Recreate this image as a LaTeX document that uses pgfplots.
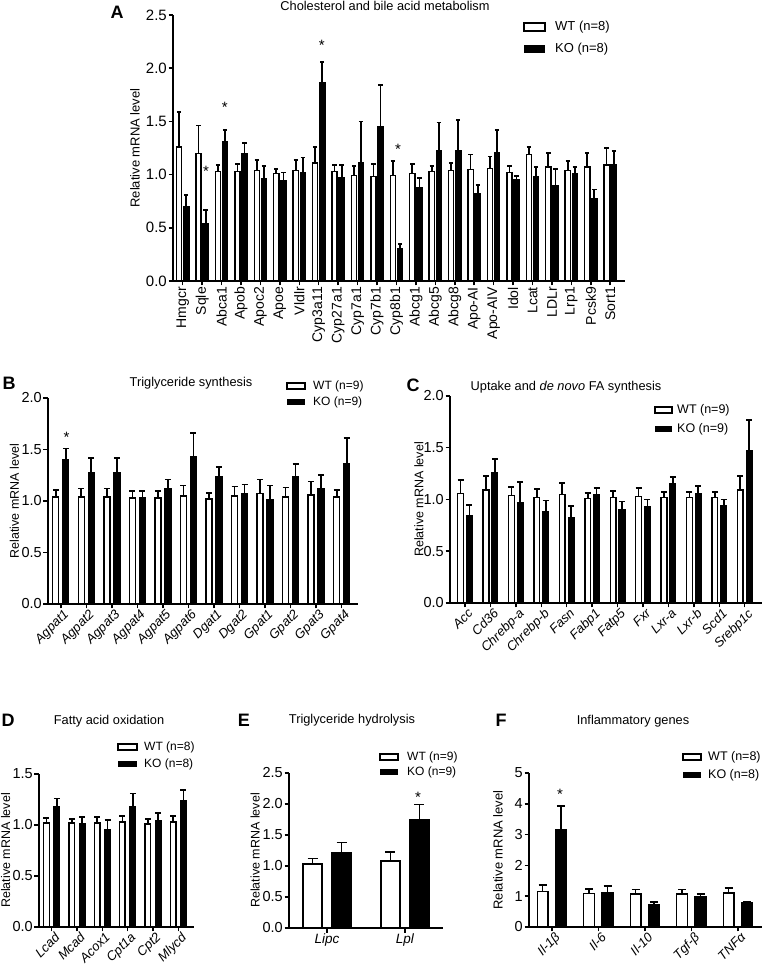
\documentclass[border=0pt]{standalone}
\usepackage{fontspec}
\setmainfont{Liberation Sans}
\usepackage{pgfplots}
\pgfplotsset{compat=1.18}
\usepackage{pgfplotstable}

\newcommand{\fs}[1]{\fontsize{#1bp}{#1bp}\selectfont}

\pgfplotsset{
  gp/.style={
    scale only axis, anchor=south west,
    axis lines*=left,
    axis line style={line width=1.5bp, -},
    every tick/.style={black, line width=1.5bp},
    tick align=outside,
    major tick length=4.5bp,
    ybar, ymin=0, enlargelimits=false, clip=false,
    /pgf/number format/assume math mode=true,
    yticklabel style={font=\fs{14.5}, inner sep=1.5bp, /pgf/number format/.cd, fixed, fixed zerofill, precision=1},
    xticklabel style={font=\fs{14}, inner sep=1.5bp},
    ylabel={Relative mRNA level},
    ylabel style={font=\fs{13}, anchor=center},
  },
  wt/.style={fill=white, draw=black, line width=1.4bp, error bars/.cd, y dir=plus, y explicit, error bar style={line width=1.7bp, black}, error mark options={rotate=90, line width=1.7bp, mark size=#1, black}},
  ko/.style={fill=black, draw=black, line width=1.4bp, error bars/.cd, y dir=plus, y explicit, error bar style={line width=1.7bp, black}, error mark options={rotate=90, line width=1.7bp, mark size=#1, black}},
}
\tikzset{sig/.style={font=\fs{15}, inner sep=0pt, yshift=-3bp}}

\pgfplotstableread{
x wt wte ko koe
0 1.26 0.33 0.70 0.11
1 1.20 0.26 0.54 0.13
2 1.03 0.06 1.31 0.11
3 1.03 0.07 1.20 0.10
4 1.04 0.10 0.96 0.12
5 1.01 0.04 0.94 0.08
6 1.04 0.10 1.02 0.14
7 1.11 0.15 1.86 0.20
8 1.03 0.06 0.97 0.12
9 0.99 0.09 1.11 0.39
10 0.98 0.12 1.45 0.39
11 0.99 0.14 0.30 0.05
12 1.01 0.09 0.88 0.09
13 1.03 0.05 1.22 0.27
14 1.04 0.07 1.22 0.29
15 1.05 0.14 0.82 0.08
16 1.06 0.11 1.21 0.21
17 1.02 0.06 0.95 0.04
18 1.19 0.07 0.98 0.09
19 1.07 0.13 0.90 0.15
20 1.04 0.09 1.01 0.06
21 1.07 0.13 0.77 0.09
22 1.09 0.16 1.09 0.13
}\tabA

\pgfplotstableread{
x wt wte ko koe
0 1.04 0.07 1.40 0.11
1 1.04 0.08 1.27 0.15
2 1.04 0.08 1.27 0.15
3 1.03 0.07 1.03 0.07
4 1.03 0.07 1.12 0.09
5 1.05 0.10 1.43 0.23
6 1.02 0.06 1.24 0.09
7 1.05 0.09 1.07 0.09
8 1.07 0.14 1.01 0.14
9 1.04 0.09 1.24 0.12
10 1.06 0.13 1.12 0.13
11 1.04 0.07 1.36 0.25
}\tabB

\pgfplotstableread{
x wt wte ko koe
0 1.06 0.13 0.84 0.11
1 1.09 0.14 1.26 0.13
2 1.04 0.08 0.97 0.20
3 1.02 0.08 0.88 0.11
4 1.05 0.11 0.82 0.12
5 1.01 0.05 1.05 0.06
6 1.02 0.06 0.90 0.08
7 1.03 0.08 0.93 0.07
8 1.02 0.05 1.15 0.07
9 1.02 0.05 1.06 0.07
10 1.02 0.05 0.94 0.06
11 1.09 0.14 1.47 0.30
}\tabC

\pgfplotstableread{
x wt wte ko koe
0 1.02 0.05 1.18 0.08
1 1.02 0.04 1.01 0.07
2 1.02 0.06 0.95 0.10
3 1.03 0.06 1.18 0.13
4 1.01 0.05 1.04 0.08
5 1.03 0.06 1.24 0.10
}\tabD

\pgfplotstableread{
x wt wte ko koe
0 1.03 0.09 1.22 0.16
1 1.08 0.15 1.74 0.25
}\tabE

\pgfplotstableread{
x wt wte ko koe
0 1.15 0.22 3.17 0.76
1 1.08 0.16 1.11 0.23
2 1.07 0.15 0.74 0.08
3 1.07 0.15 0.98 0.10
4 1.10 0.16 0.78 0.03
}\tabF

\begin{document}
\begin{tikzpicture}
\path[use as bounding box] (0,0) rectangle (763bp,968bp);

% ---------------- A
\begin{axis}[gp, at={(173bp,687bp)}, width=452bp, height=266bp,
  xmin=-0.5, xmax=22.76, ymax=2.5, ytick={0,0.5,1,1.5,2,2.5},
  yticklabel style={/tikz/font=\fs{15}},
  xtick={0,...,22},
  xticklabels={Hmgcr,Sqle,Abca1,Apob,Apoc2,Apoe,Vldlr,Cyp3a11,Cyp27a1,Cyp7a1,Cyp7b1,Cyp8b1,Abcg1,Abcg5,Abcg8,Apo-AI,Apo-AIV,Idol,Lcat,LDLr,Lrp1,Pcsk9,Sort1},
  xticklabel style={rotate=90, anchor=east},
  ylabel style={at={(axis description cs:-0.084,0.5)}}]
\addplot[bar width=5.2bp, bar shift=-3.6bp, wt=2.2bp] table[x=x, y=wt, y error=wte] {\tabA};
\addplot[bar width=5.2bp, bar shift=3.5bp, ko=2.2bp] table[x=x, y=ko, y error=koe] {\tabA};
\node[sig] at (axis cs:1.2,1.06) {*};
\node[sig] at (axis cs:2.17,1.66) {*};
\node[sig] at (axis cs:7.16,2.24) {*};
\node[sig] at (axis cs:11.08,1.27) {*};
\end{axis}

% ---------------- B
\begin{axis}[gp, at={(48bp,364bp)}, width=310bp, height=206bp,
  xmin=-0.5, xmax=11.64, ymax=2, ytick={0,0.5,1,1.5,2},
  xtick={0,...,11},
  xticklabels={Agpat1,Agpat2,Agpat3,Agpat4,Agpat5,Agpat6,Dgat1,Dgat2,Gpat1,Gpat2,Gpat3,Gpat4},
  xticklabel style={font=\itshape\fs{13}, rotate=45, anchor=north east, xshift=3bp},
  ylabel style={font=\fs{12.5}, at={(axis description cs:-0.108,0.5)}}]
\addplot[bar width=6bp, bar shift=-5bp, wt=3bp] table[x=x, y=wt, y error=wte] {\tabB};
\addplot[bar width=6bp, bar shift=5bp, ko=3bp] table[x=x, y=ko, y error=koe] {\tabB};
\node[sig] at (axis cs:0.23,1.65) {*};
\end{axis}

% ---------------- C
\begin{axis}[gp, at={(450bp,365bp)}, width=312bp, height=207bp,
  xmin=-0.59, xmax=11.68, ymax=2, ytick={0,0.5,1,1.5,2},
  xtick={0,...,11},
  xticklabels={Acc,Cd36,Chrebp-a,Chrebp-b,Fasn,Fabp1,Fatp5,Fxr,Lxr-a,Lxr-b,Scd1,Srebp1c},
  xticklabel style={font=\itshape\fs{13}, rotate=45, anchor=north east, xshift=3bp},
  ylabel style={font=\fs{12.5}, at={(axis description cs:-0.1,0.5)}}]
\addplot[bar width=5.7bp, bar shift=-4.4bp, wt=3bp] table[x=x, y=wt, y error=wte] {\tabC};
\addplot[bar width=5.7bp, bar shift=4.4bp, ko=3bp] table[x=x, y=ko, y error=koe] {\tabC};
\end{axis}

% ---------------- D
\begin{axis}[gp, at={(39bp,41bp)}, width=155bp, height=153bp,
  xmin=-0.5, xmax=5.62, ymax=1.5, ytick={0,0.5,1,1.5},
  xtick={0,...,5},
  xticklabels={Lcad,Mcad,Acox1,Cpt1a,Cpt2,Mlycd},
  xticklabel style={font=\itshape\fs{13}, rotate=45, anchor=north east, xshift=3bp},
  ylabel style={font=\fs{12.5}, at={(axis description cs:-0.215,0.5)}}]
\addplot[bar width=5.5bp, bar shift=-5.2bp, wt=3bp] table[x=x, y=wt, y error=wte] {\tabD};
\addplot[bar width=5.5bp, bar shift=5.2bp, ko=3bp] table[x=x, y=ko, y error=koe] {\tabD};
\end{axis}

% ---------------- E
\begin{axis}[gp, at={(289bp,40bp)}, width=154bp, height=155bp,
  xmin=-0.49, xmax=1.49, ymax=2.5, ytick={0,0.5,1,1.5,2,2.5},
  xtick={0,1},
  xticklabels={Lipc,Lpl},
  xticklabel style={font=\itshape\fs{13.5}},
  ylabel style={font=\fs{12.5}, at={(axis description cs:-0.22,0.5)}}]
\addplot[bar width=19bp, bar shift=-14.5bp, wt=5bp] table[x=x, y=wt, y error=wte] {\tabE};
\addplot[bar width=19bp, bar shift=14.5bp, ko=5bp] table[x=x, y=ko, y error=koe] {\tabE};
\node[sig] at (axis cs:1.17,2.15) {*};
\end{axis}

% ---------------- F
\begin{axis}[gp, at={(529bp,41bp)}, width=233bp, height=154bp,
  xmin=-0.49, xmax=4.52, ymax=5, ytick={0,1,2,3,4,5},
  yticklabel style={/pgf/number format/.cd, fixed, precision=0, fixed zerofill=false},
  xtick={0,...,4},
  xticklabels={Il-1β,Il-6,Il-10,Tgf-β,TNFα},
  xticklabel style={font=\itshape\fs{13}, rotate=45, anchor=north east, xshift=3bp},
  ylabel style={font=\fs{13}, at={(axis description cs:-0.133,0.5)}}]
\addplot[bar width=10.7bp, bar shift=-9.2bp, wt=4bp] table[x=x, y=wt, y error=wte] {\tabF};
\addplot[bar width=10.7bp, bar shift=9.2bp, ko=4bp] table[x=x, y=ko, y error=koe] {\tabF};
\node[sig] at (axis cs:0.18,4.39) {*};
\end{axis}

% ---------------- titles, letters, legends (image coordinates)
\begin{scope}[x=1bp, y=-1bp, yshift=968bp]
\node[font=\fs{12.8}] at (385,6) {Cholesterol and bile acid metabolism};
\node[font=\bfseries\fs{18}] at (117,12) {A};
\node[font=\fs{12.8}] at (191,383) {Triglyceride synthesis};
\node[font=\bfseries\fs{18}] at (9,383) {B};
\node[font=\fs{12.8}] at (566,387) {Uptake and \textit{de novo} FA synthesis};
\node[font=\bfseries\fs{18}] at (413,385) {C};
\node[font=\fs{12.8}] at (109,721) {Fatty acid oxidation};
\node[font=\bfseries\fs{18}] at (8,720) {D};
\node[font=\fs{12.8}] at (352,720) {Triglyceride hydrolysis};
\node[font=\bfseries\fs{18}] at (244,720) {E};
\node[font=\fs{12.8}] at (633,721) {Inflammatory genes};
\node[font=\bfseries\fs{18}] at (501,720) {F};

% legend A
\draw[line width=1.3bp, fill=white] (524,23) rectangle (545,31);
\node[anchor=west, inner sep=0pt, font=\fs{13}] at (555,27) {WT (n=8)};
\fill (524,45) rectangle (545,53);
\node[anchor=west, inner sep=0pt, font=\fs{13}] at (555,49) {KO (n=8)};
% legend B
\draw[line width=1.3bp, fill=white] (287,383) rectangle (305,389);
\node[anchor=west, inner sep=0pt, font=\fs{12}] at (313,386) {WT (n=9)};
\fill (287,399) rectangle (305,405);
\node[anchor=west, inner sep=0pt, font=\fs{12}] at (313,402) {KO (n=9)};
% legend C
\draw[line width=1.3bp, fill=white] (655,407) rectangle (672,413);
\node[anchor=west, inner sep=0pt, font=\fs{12.5}] at (677,410) {WT (n=9)};
\fill (655,426) rectangle (672,432);
\node[anchor=west, inner sep=0pt, font=\fs{12.5}] at (677,429) {KO (n=9)};
% legend D
\draw[line width=1.3bp, fill=white] (118,744) rectangle (137,750);
\node[anchor=west, inner sep=0pt, font=\fs{12}] at (144,747) {WT (n=8)};
\fill (118,761) rectangle (137,767);
\node[anchor=west, inner sep=0pt, font=\fs{12}] at (144,764) {KO (n=8)};
% legend E
\draw[line width=1.3bp, fill=white] (380,754) rectangle (398,760);
\node[anchor=west, inner sep=0pt, font=\fs{12}] at (407,757) {WT (n=9)};
\fill (380,769) rectangle (398,775);
\node[anchor=west, inner sep=0pt, font=\fs{12}] at (407,772) {KO (n=9)};
% legend F
\draw[line width=1.3bp, fill=white] (683,754) rectangle (701,760);
\node[anchor=west, inner sep=0pt, font=\fs{12.5}] at (708,757) {WT (n=8)};
\fill (683,772) rectangle (701,778);
\node[anchor=west, inner sep=0pt, font=\fs{12.5}] at (708,775) {KO (n=8)};
\end{scope}
\end{tikzpicture}
\end{document}
